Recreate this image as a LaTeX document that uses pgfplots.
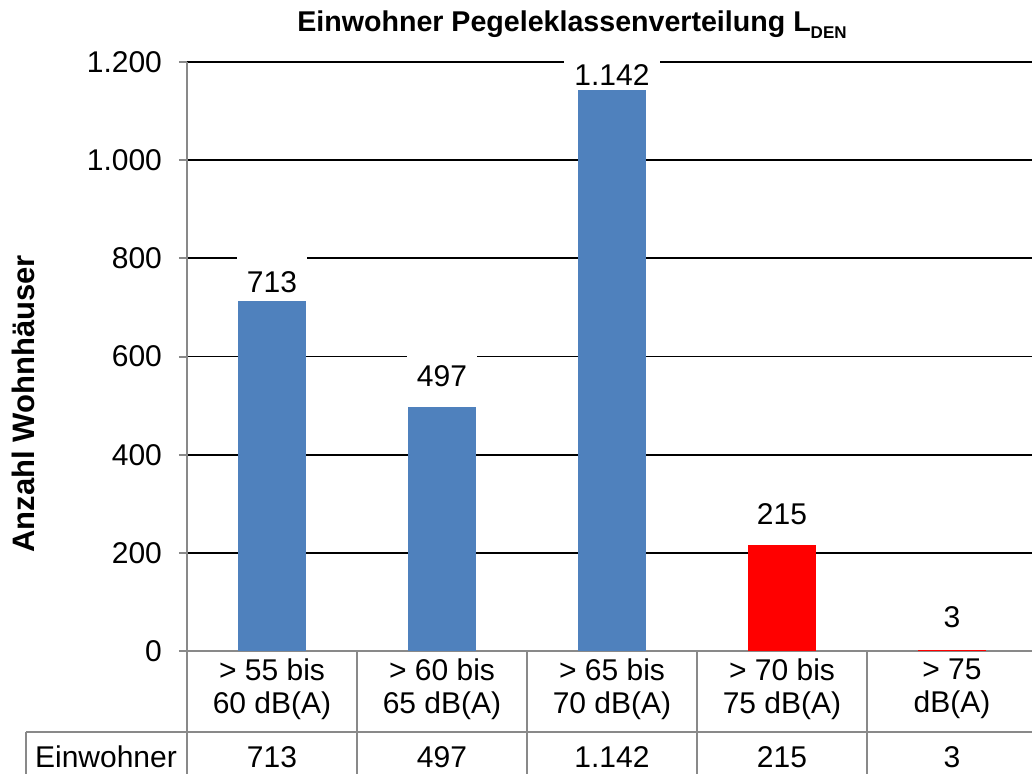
\documentclass[border=0pt]{standalone}
\usepackage{fontspec}
\setmainfont{Liberation Sans}
\usepackage{pgfplots}
\pgfplotsset{compat=1.18}
\definecolor{barblue}{HTML}{4F81BD}
\definecolor{axgray}{HTML}{898989}
\newcommand{\fs}{\fontsize{15}{16.5}\selectfont}
\pgfplotsset{
  mybar/.style={ybar, bar shift=0pt, bar width=34pt, draw=none, nodes near coords,
    every node near coord/.append style={font=\fs, fill=white, inner xsep=5pt, inner ysep=1.5pt,
      text height=16.7pt, text depth=0pt, anchor=south, text=black, yshift=#1}},
}
\begin{document}
\begin{tikzpicture}
\begin{axis}[
  scale only axis, width=425pt, height=294.5pt,
  xmin=-0.5, xmax=4.5, ymin=0, ymax=1200,
  clip=false,
  axis lines*=left,
  axis line style={axgray, line width=1pt},
  xtick={0,...,4},
  xticklabels={{> 55 bis\\60 dB(A)},{> 60 bis\\65 dB(A)},{> 65 bis\\70 dB(A)},{> 70 bis\\75 dB(A)},{> 75\\dB(A)}},
  xtick style={draw=none},
  ytick={0,200,...,1200},
  ymajorgrids, grid style={black, line width=0.9pt},
  ytick style={axgray, line width=1pt},
  tick align=outside, major tick length=4pt,
  yticklabel style={font=\fs, xshift=-5pt},
  xticklabel style={font=\fs, align=center, anchor=north, yshift=3.5pt},
  /pgf/number format/1000 sep={.},
  /pgf/number format/assume math mode=true,
]
\coordinate (O) at (axis cs:-0.5,0);
\addplot[mybar=2.5pt, fill=barblue] coordinates {(0,713)};
\addplot[mybar=8.5pt, fill=barblue] coordinates {(1,497)};
\addplot[mybar=0.75pt, fill=barblue] coordinates {(2,1142)};
\addplot[mybar=8.75pt, fill=red] coordinates {(3,215)};
\addplot[mybar=9.25pt, fill=red] coordinates {(4,3)};
% table lines
\draw[axgray, line width=1pt] (axis cs:-0.5,0) -- ([yshift=-62pt]axis cs:-0.5,0);
\draw[axgray, line width=1pt] (axis cs:0.5,0) -- ([yshift=-62pt]axis cs:0.5,0);
\draw[axgray, line width=1pt] (axis cs:1.5,0) -- ([yshift=-62pt]axis cs:1.5,0);
\draw[axgray, line width=1pt] (axis cs:2.5,0) -- ([yshift=-62pt]axis cs:2.5,0);
\draw[axgray, line width=1pt] (axis cs:3.5,0) -- ([yshift=-62pt]axis cs:3.5,0);
\draw[axgray, line width=1pt] ([xshift=-80.5pt,yshift=-40.5pt]O) -- ([xshift=430pt,yshift=-40.5pt]O);
\draw[axgray, line width=1pt] ([xshift=-80.5pt,yshift=-40.5pt]O) -- ([xshift=-80.5pt,yshift=-62pt]O);
% table row
\node[font=\fs, anchor=base] at ([xshift=-40.5pt,yshift=-58pt]O) {Einwohner};
\node[font=\fs, anchor=base] at ([yshift=-58pt]axis cs:0,0) {713};
\node[font=\fs, anchor=base] at ([yshift=-58pt]axis cs:1,0) {497};
\node[font=\fs, anchor=base] at ([yshift=-58pt]axis cs:2,0) {1.142};
\node[font=\fs, anchor=base] at ([yshift=-58pt]axis cs:3,0) {215};
\node[font=\fs, anchor=base] at ([yshift=-58pt]axis cs:4,0) {3};
% title and y label
\node[anchor=base, font=\bfseries\fontsize{14.3}{16}\selectfont] at ([xshift=192.5pt,yshift=309.5pt]O)
  {Einwohner Pegeleklassenverteilung L\raisebox{-3pt}{\fontsize{8.5}{10}\selectfont DEN}};
\node[rotate=90, font=\bfseries\fontsize{15.5}{17}\selectfont] at ([xshift=-82pt,yshift=123.5pt]O) {Anzahl Wohnhäuser};
\end{axis}
\pgfresetboundingbox
\path ([xshift=-93.5pt,yshift=-61pt]O) rectangle ([xshift=422.5pt,yshift=325.5pt]O);
\end{tikzpicture}
\end{document}
